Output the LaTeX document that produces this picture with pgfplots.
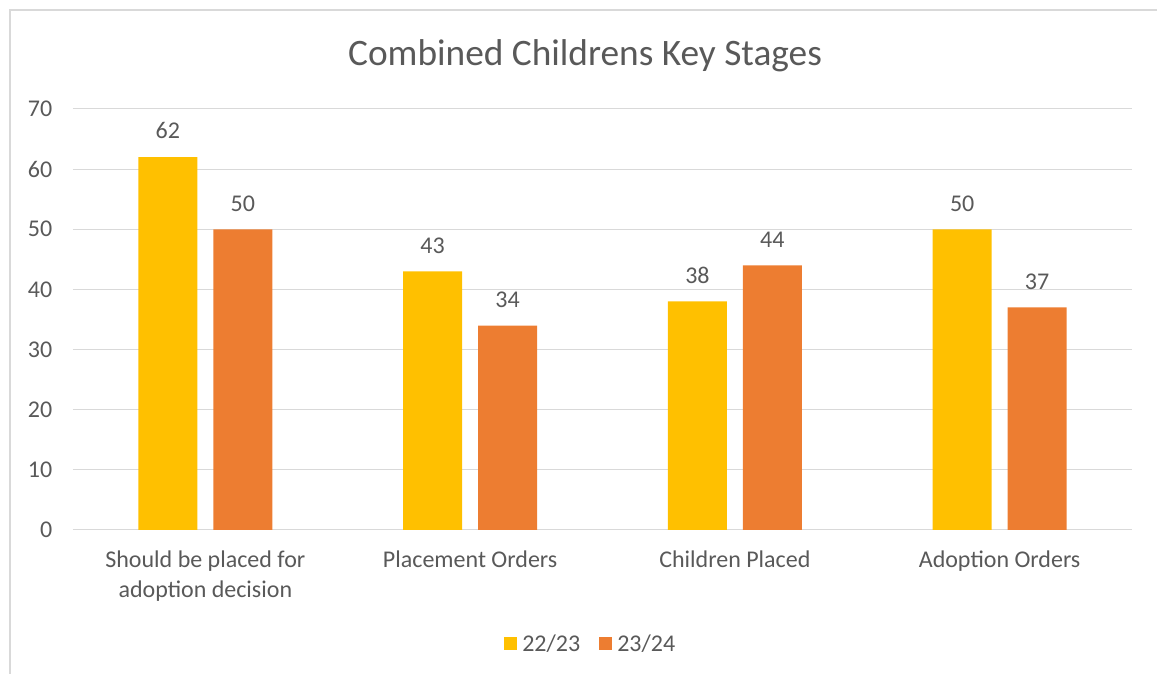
\documentclass[border=0pt]{standalone}
\usepackage{pgfplots}
\pgfplotsset{compat=1.18}
\usepackage{fontspec}
\setmainfont{Carlito}
\definecolor{cyel}{HTML}{FFC000}
\definecolor{corg}{HTML}{ED7D31}
\definecolor{ctxt}{HTML}{595959}
\definecolor{cgrid}{HTML}{D9D9D9}
\begin{document}
\begin{tikzpicture}[x=0.75pt,y=0.75pt]
\path[use as bounding box] (0,0) rectangle (1157,674);
\draw[cgrid,line width=1.5pt] (9.5,0) -- (9.5,664) -- (1157,664);
\node[text=ctxt,font=\fontsize{28}{34}\selectfont] at (585,618) {Combined Childrens Key Stages};
\begin{axis}[
  at={(54.75pt,108pt)}, anchor=south west,
  scale only axis, width=794.25pt, height=315.75pt,
  xmin=-0.5, xmax=3.5, ymin=0, ymax=70,
  ytick={0,10,...,70},
  xtick={0,1,2,3},
  xticklabels={Should be placed for\\adoption decision, Placement Orders, Children Placed, Adoption Orders},
  xticklabel style={align=center, text=ctxt, font=\fontsize{18}{22.5}\selectfont, yshift=-12pt},
  yticklabel style={text=ctxt, font=\fontsize{18}{20}\selectfont, xshift=-12pt},
  /pgf/number format/assume math mode=true,
  major tick length=0pt,
  ymajorgrids, grid style={cgrid, line width=0.75pt},
  axis lines*=left,
  x axis line style={cgrid, line width=0.75pt},
  y axis line style={draw=none},
  ybar, bar width=0.223,
  nodes near coords,
  every node near coord/.append style={text=ctxt, font=\fontsize{18}{20}\selectfont, yshift=10pt},
  clip=false,
]
\addplot[fill=cyel, draw=none, bar shift=-0.1415] coordinates {(0,62) (1,43) (2,38) (3,50)};
\addplot[fill=corg, draw=none, bar shift=0.1415] coordinates {(0,50) (1,34) (2,44) (3,37)};
\end{axis}
\fill[cyel] (504,24) rectangle (517,37);
\node[anchor=west,text=ctxt,font=\fontsize{18}{20}\selectfont,inner sep=0pt] at (522,30.5) {22/23};
\fill[corg] (599,24) rectangle (612,37);
\node[anchor=west,text=ctxt,font=\fontsize{18}{20}\selectfont,inner sep=0pt] at (617,30.5) {23/24};
\end{tikzpicture}
\end{document}
